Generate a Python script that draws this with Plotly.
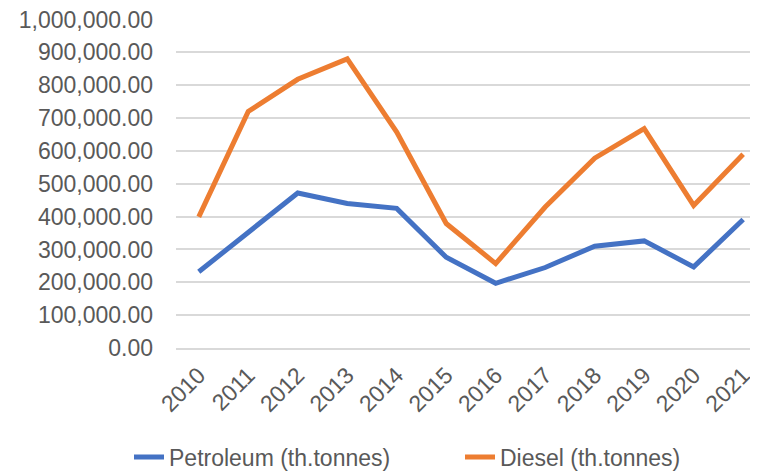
import plotly.graph_objects as go

years = ["2010", "2011", "2012", "2013", "2014", "2015", "2016", "2017", "2018", "2019", "2020", "2021"]
petroleum = [232000, 352000, 472000, 440000, 425000, 276000, 197000, 245000, 310000, 326000, 247000, 391000]
diesel = [399000, 720000, 818000, 880000, 657000, 379000, 257000, 429000, 578000, 668000, 434000, 590000]
y_ticks = [0, 100000, 200000, 300000, 400000, 500000, 600000, 700000, 800000, 900000, 1000000]

font_family = "Liberation Sans, Arial, sans-serif"
text_color = "#595959"
fs = 23
W, H = 750, 464  # page body adds an 8px offset

fig = go.Figure()
fig.add_trace(go.Scatter(x=years, y=petroleum, mode="lines", name="Petroleum (th.tonnes)",
                         line=dict(color="#4472C4", width=5), legend="legend"))
fig.add_trace(go.Scatter(x=years, y=diesel, mode="lines", name="Diesel (th.tonnes)",
                         line=dict(color="#ED7D31", width=5), legend="legend2"))

leg_common = dict(orientation="h", xref="container", yref="container",
                  xanchor="left", yanchor="middle", y=(H - 449) / H,
                  font=dict(size=fs, color=text_color), bgcolor="rgba(0,0,0,0)")

fig.update_layout(
    width=W, height=H,
    margin=dict(l=168, r=0, t=11, b=H - 340, autoexpand=False),
    paper_bgcolor="white", plot_bgcolor="white",
    font=dict(family=font_family, size=fs, color=text_color),
    showlegend=True,
    legend=dict(x=121 / W, **leg_common),
    legend2=dict(x=452 / W, **leg_common),
)
fig.update_xaxes(type="category", range=[-0.46, 11.3], tickangle=-45, automargin=False,
                 showgrid=False, showline=True, linecolor="#d9d9d9", linewidth=1.5,
                 ticks="", ticklabelstandoff=3, tickfont=dict(size=fs, color=text_color))
fig.update_yaxes(range=[0, 1001500], tickvals=y_ticks, tickformat=",.2f", automargin=False,
                 showgrid=True, gridcolor="#d9d9d9", gridwidth=1.5,
                 zeroline=False, showline=False, ticks="", ticklabeloverflow="allow",
                 ticklabelstandoff=22, tickfont=dict(size=fs, color=text_color))

fig.write_html("out.html")
